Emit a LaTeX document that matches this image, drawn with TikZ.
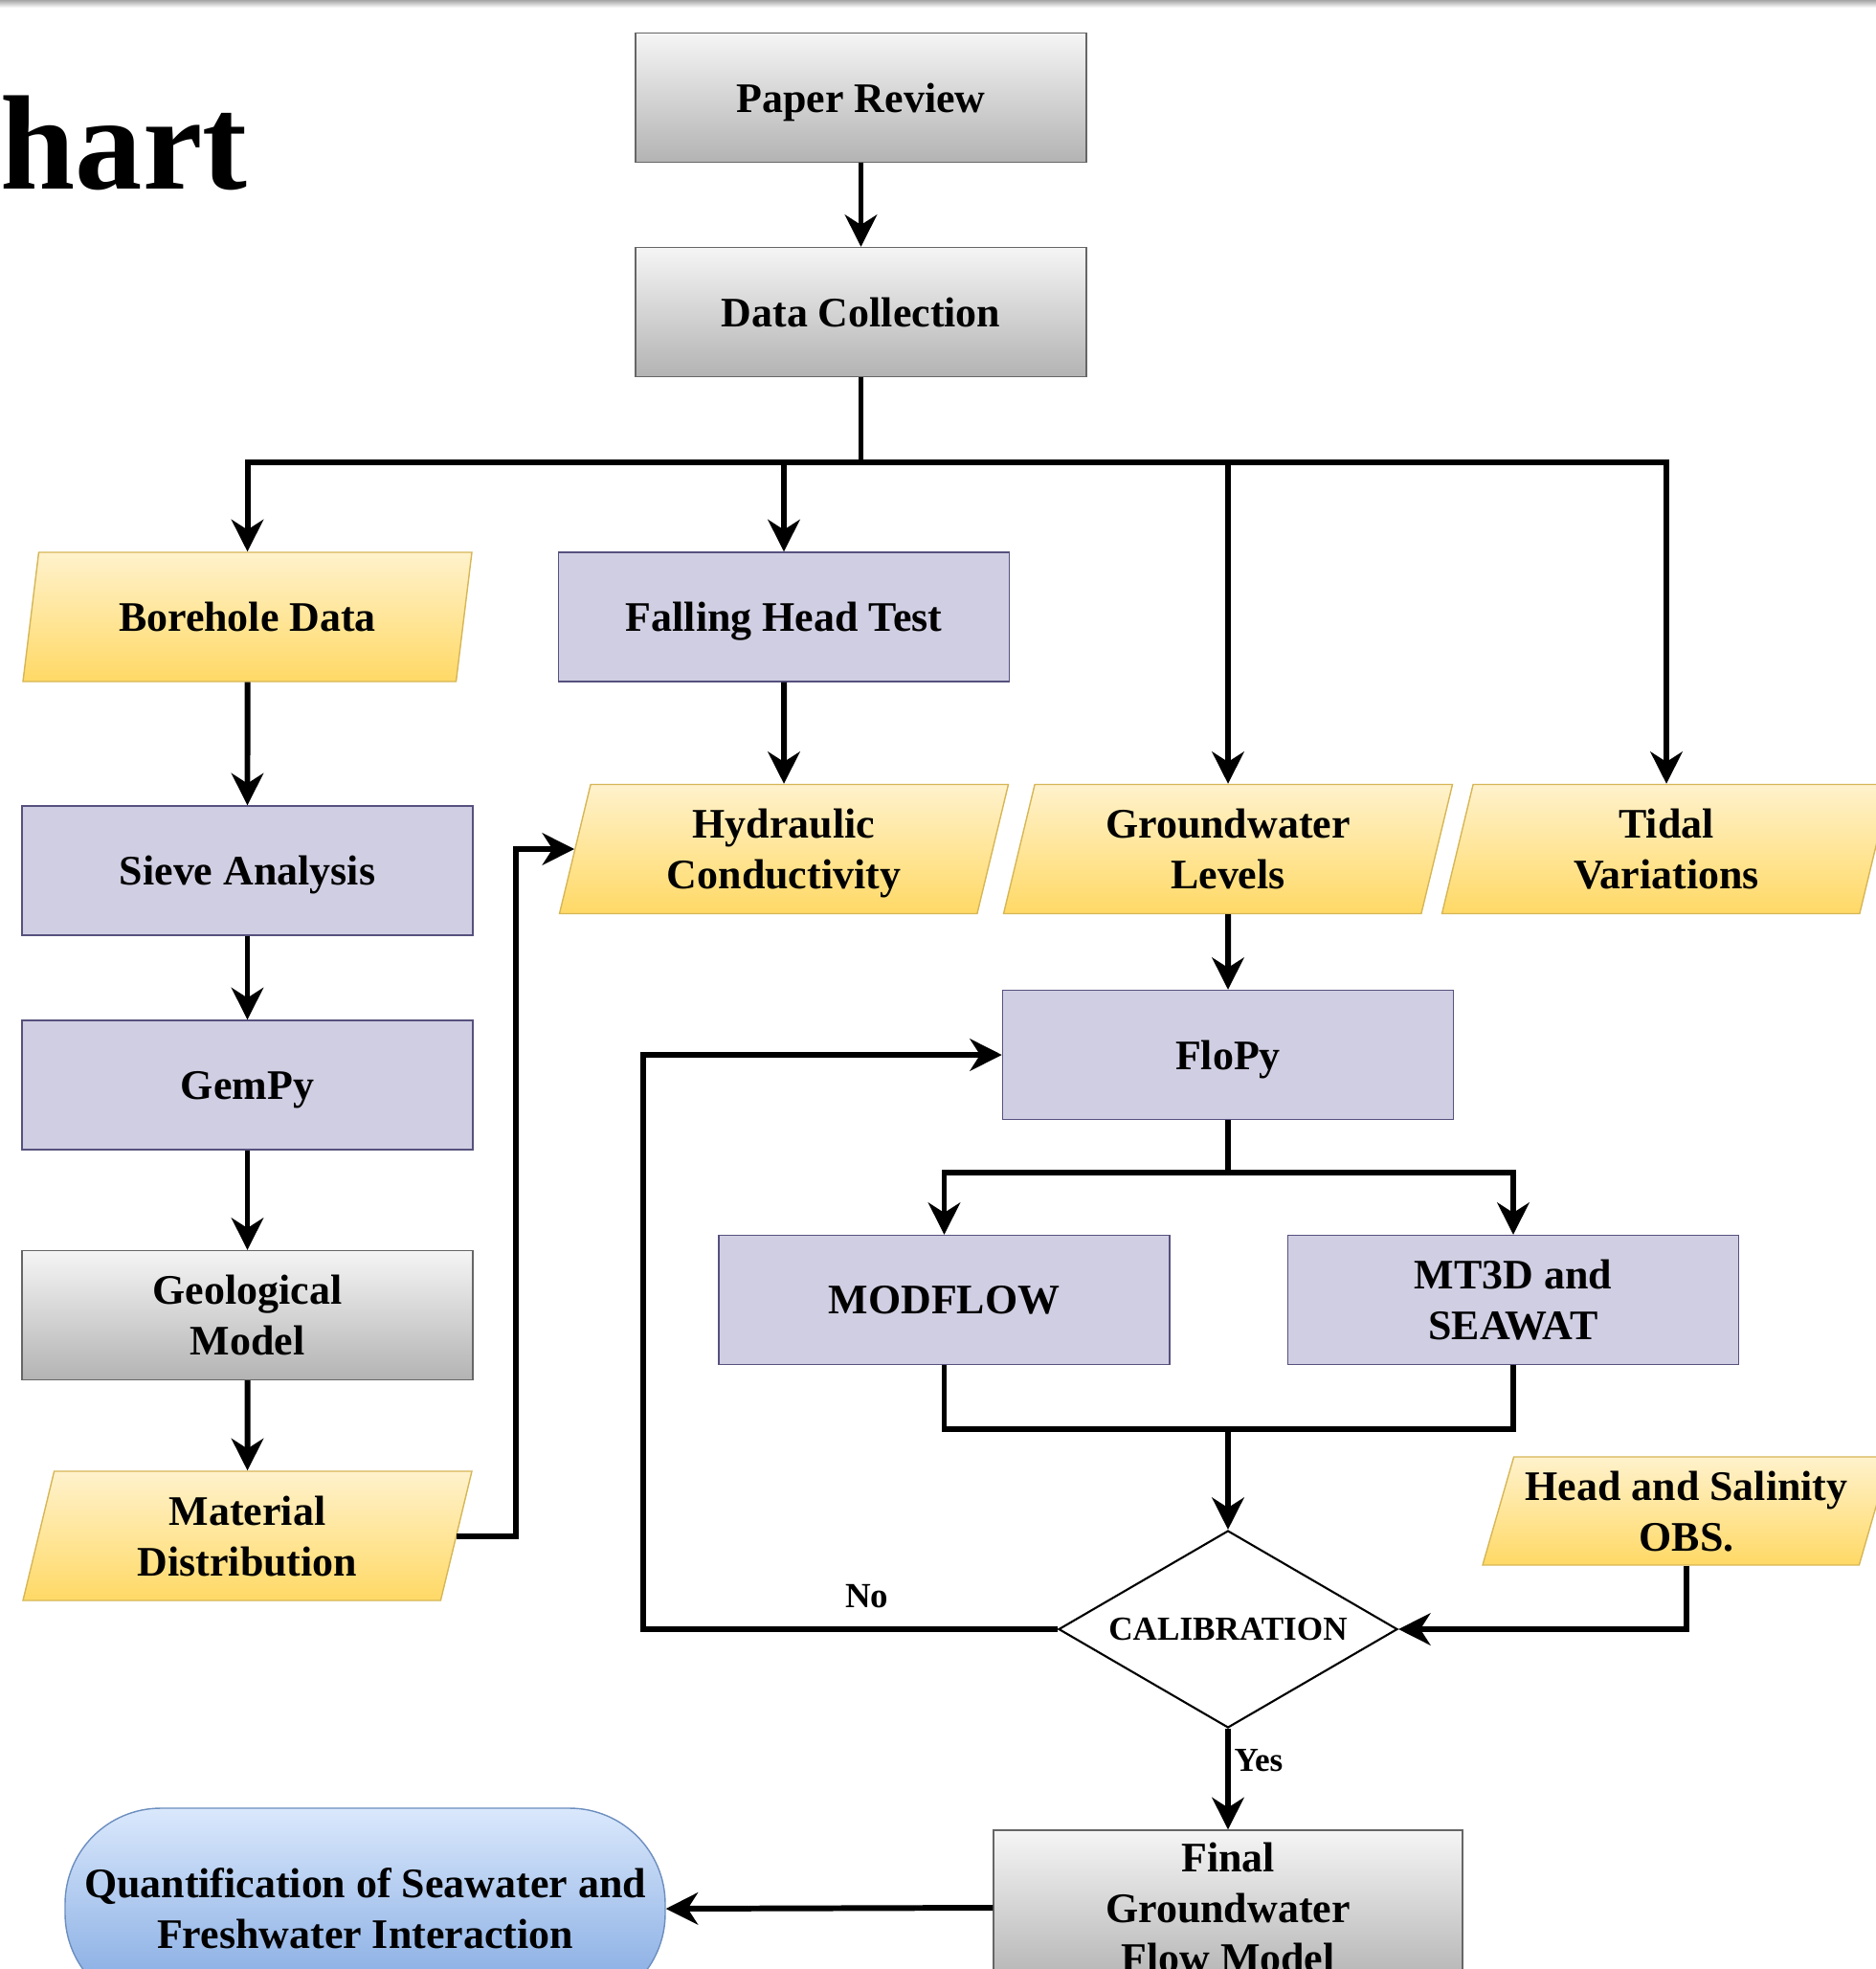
\documentclass[tikz,border=0pt]{standalone}
\usepackage{fontspec}
\setmainfont{Liberation Serif}
\usepackage{tikz}
\usetikzlibrary{arrows.meta,calc,positioning,shapes.geometric}

\definecolor{procfill}{HTML}{D0CEE2}
\definecolor{procline}{HTML}{56517E}
\definecolor{datatop}{HTML}{FFF2CC}
\definecolor{databot}{HTML}{FFD966}
\definecolor{dataline}{HTML}{D6B656}
\definecolor{greytop}{HTML}{F5F5F5}
\definecolor{greybot}{HTML}{B3B3B3}
\definecolor{greyline}{HTML}{666666}
\definecolor{endtop}{HTML}{DAE8FC}
\definecolor{endbot}{HTML}{7EA6E0}
\definecolor{endline}{HTML}{6C8EBF}

\begin{document}
\begin{tikzpicture}[>={Stealth[length=9.5pt,width=9.5pt,inset=3pt]},
  font=\bfseries\fontsize{12.5}{15}\selectfont,
  link/.style={line width=1.7pt,->},
  wire/.style={line width=1.7pt},
  procbox/.style={draw=procline, fill=procfill, minimum width=4.71cm, minimum height=1.35cm, align=center, text depth=-3pt},
  greybox/.style={draw=greyline, top color=greytop, bottom color=greybot, minimum width=4.71cm, minimum height=1.35cm, align=center, text depth=-3pt},
  databox/.style={trapezium, trapezium left angle=73, trapezium right angle=107, trapezium stretches body,
    draw=dataline, top color=datatop, bottom color=databot, minimum width=4.69cm, minimum height=1.35cm,
    align=center, inner xsep=0pt, text depth=-3pt},
  smalltext/.style={font=\bfseries\fontsize{10.5}{12}\selectfont}]

  % Slide frame
  \useasboundingbox (0,0) rectangle (19.6,-20.57);
  \clip (0,0) rectangle (19.6,-20.57);
  \shade[top color=gray!70, bottom color=white] (0,0) rectangle (19.6,-0.08);
  \node[anchor=base west, inner sep=0pt, font=\bfseries\fontsize{40}{48}\selectfont] (title) at (0,-1.97) {hart};

  % Start
  \node[greybox] (paper) at (8.995,-1.02) {Paper Review};
  \node[greybox] (collect) at (8.995,-3.26) {Data Collection};

  % Collected data
  \node[databox] (bore) at (2.585,-6.445) {Borehole Data};
  \node[procbox] (fall) at (8.19,-6.445) {Falling Head Test};
  \node[databox] (hydro) at (8.19,-8.87) {Hydraulic\\Conductivity};
  \node[databox] (gwl) at (12.83,-8.87) {Groundwater\\Levels};
  \node[databox] (tide) at (17.41,-8.87) {Tidal\\Variations};

  % Geology column
  \node[procbox] (sieve) at (2.585,-9.095) {Sieve Analysis};
  \node[procbox] (gempy) at (2.585,-11.335) {GemPy};
  \node[greybox] (geo) at (2.585,-13.74) {Geological\\Model};
  \node[databox] (mat) at (2.585,-16.045) {Material\\Distribution};

  % Model
  \node[procbox] (flopy) at (12.83,-11.02) {FloPy};
  \node[procbox] (modflow) at (9.865,-13.58) {MODFLOW};
  \node[procbox] (mt3d) at (15.81,-13.58) {MT3D and\\SEAWAT};
  \node[diamond, draw, line width=0.6pt, fill=white, aspect=1.72, inner sep=0pt,
    minimum width=3.54cm, minimum height=2.06cm,
    font=\bfseries\fontsize{10}{12}\selectfont] (calib) at (12.83,-17.02) {CALIBRATION};
  \node[databox, minimum width=4.26cm, minimum height=1.13cm] (obs) at (17.62,-15.785) {Head and Salinity\\OBS.};
  \node[greybox, minimum width=4.9cm, minimum height=1.62cm, text depth=-1.5pt] (final) at (12.83,-19.93) {Final\\Groundwater\\Flow Model};
  \node[draw=endline, top color=endtop, bottom color=endbot, rounded corners=1cm,
    minimum width=6.27cm, minimum height=2.1cm, align=center] (quant) at (3.815,-19.94)
    {Quantification of Seawater and\\Freshwater Interaction};

  % Links
  \draw[link] (paper) -- (collect);
  \draw[wire] (collect.south) -- ++(0,-0.89) coordinate (split);
  \draw[link] (split) -| (bore.north);
  \draw[link] (split) -| (fall.north);
  \draw[link] (split) -| (gwl.north);
  \draw[link] (split) -| (tide.north);

  \draw[link] (bore) -- (sieve);
  \draw[link] (sieve) -- (gempy);
  \draw[link] (gempy) -- (geo);
  \draw[link] (geo) -- (mat);
  \draw[link] (fall) -- (hydro);
  \draw[link] (mat.east) -- ++(0.62,0) |- (hydro.west);

  \draw[link] (gwl) -- (flopy);
  \draw[wire] (flopy.south) -- ++(0,-0.55) coordinate (fsplit);
  \draw[link] (fsplit) -| (modflow.north);
  \draw[link] (fsplit) -| (mt3d.north);
  \draw[wire] (modflow.south) -- ++(0,-0.67) coordinate (mjoin) -| (mt3d.south);
  \draw[link] (mjoin -| calib.north) -- (calib.north);
  \draw[link] (obs.south) |- (calib.east);

  % Calibration loop
  \draw[link] (calib.west) -- node[above=2pt, pos=0.46, smalltext] {No} ++(-4.33,0) |- (flopy.west);
  \draw[link] (calib.south) -- node[right, pos=0.31, inner sep=1pt, font=\bfseries\fontsize{10}{12}\selectfont] {Yes} (final.north);
  \draw[link] (final.west) -- (quant.east);

\end{tikzpicture}
\end{document}
